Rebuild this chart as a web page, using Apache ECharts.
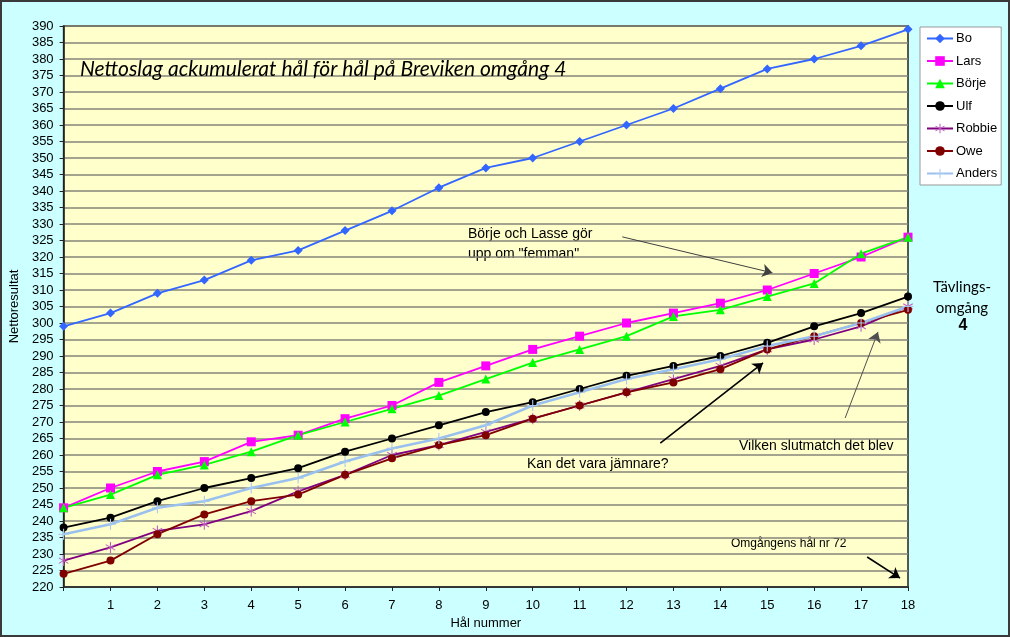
<!DOCTYPE html>
<html lang="sv">
<head>
<meta charset="UTF-8">
<title>Nettoslag Breviken omgång 4</title>
<style>
    * { padding: 0; margin: 0; box-sizing: border-box; }
    html, body { width: 100%; height: 100%; overflow: hidden; }
    #box { width: 1010px; height: 637px; }
</style>
</head>
<body>
<div id="box"></div>
<script src="https://cdn.jsdelivr.net/npm/echarts@6/dist/echarts.min.js"></script>
<script>
    // hål 0..18
    var holes = [0, 1, 2, 3, 4, 5, 6, 7, 8, 9, 10, 11, 12, 13, 14, 15, 16, 17, 18];
    var bo     = [299, 303, 309, 313, 319, 322, 328, 334, 341, 347, 350, 355, 360, 365, 371, 377, 380, 384, 389];
    var lars   = [244, 250, 255, 258, 264, 266, 271, 275, 282, 287, 292, 296, 300, 303, 306, 310, 315, 320, 326];
    var borje  = [244, 248, 254, 257, 261, 266, 270, 274, 278, 283, 288, 292, 296, 302, 304, 308, 312, 321, 326];
    var ulf    = [238, 241, 246, 250, 253, 256, 261, 265, 269, 273, 276, 280, 284, 287, 290, 294, 299, 303, 308];
    var robbie = [228, 232, 237, 239, 243, 249, 254, 260, 263, 267, 271, 275, 279, 283, 287, 292, 295, 299, 305];
    var owe    = [224, 228, 236, 242, 246, 248, 254, 259, 263, 266, 271, 275, 279, 282, 286, 292, 296, 300, 304];
    var anders = [236, 239, 244, 246, 250, 253, 258, 262, 265, 269, 275, 279, 283, 286, 289, 293, 296, 300, 305];

    // pilar i diagrammet (data-koordinater: hål, resultat)
    var arrows = [
        { from: [11.91, 326.1], to: [15.11, 315.2], color: '#404040', width: 1 },
        { from: [12.72, 263.6], to: [14.91, 287.9], color: '#000', width: 1.6 },
        { from: [16.66, 271.2], to: [17.36, 297.3], color: '#505050', width: 1 },
        { from: [17.13, 229.1], to: [17.83, 222.7], color: '#000', width: 1.6 }
    ];

    var font = "'Liberation Sans', Arial, sans-serif";
    var asterisk = 'path://M-0.5,-5L0.5,-5L0.5,5L-0.5,5Z M4.08,2.93L4.58,2.07L-4.08,-2.93L-4.58,-2.07Z M4.58,-2.07L4.08,-2.93L-4.58,2.07L-4.08,2.93Z';
    var plus = 'path://M-0.5,-5L0.5,-5L0.5,5L-0.5,5Z M-5,-0.5L5,-0.5L5,0.5L-5,0.5Z';

    var pairs = function (vals) {
        var res = [];
        for (var i = 0; i < holes.length; i++) {
            res.push([holes[i], vals[i]]);
        }
        return res;
    };

    var mkSeries = function (name, vals, color, symbol, size, markColor, width) {
        return {
            name: name,
            type: 'line',
            data: pairs(vals),
            symbol: symbol,
            symbolSize: size,
            symbolKeepAspect: true,
            lineStyle: { color: color, width: width || 1.8 },
            itemStyle: { color: markColor || color },
            emphasis: { disabled: true }
        };
    };

    var series = [
        mkSeries('Bo', bo, '#3366FF', 'diamond', 9),
        mkSeries('Lars', lars, '#FF00FF', 'rect', 9),
        mkSeries('Börje', borje, '#00FF00', 'triangle', 9),
        mkSeries('Ulf', ulf, '#000000', 'circle', 8),
        mkSeries('Robbie', robbie, '#800080', asterisk, 11, '#C060C0'),
        mkSeries('Owe', owe, '#800000', 'circle', 8),
        mkSeries('Anders', anders, '#99C0EE', plus, 11, '#A8C8F0', 2.6)
    ];

    var arrowLines = [];
    for (var i = 0; i < arrows.length; i++) {
        arrowLines.push([
            { coord: arrows[i].from, lineStyle: { color: arrows[i].color, width: arrows[i].width, type: 'solid' } },
            { coord: arrows[i].to }
        ]);
    }
    series.push({
        name: 'pilar',
        type: 'line',
        data: [],
        silent: true,
        markLine: {
            silent: true,
            symbol: ['none', 'arrow'],
            symbolSize: 10,
            label: { show: false },
            emphasis: { disabled: true },
            data: arrowLines
        }
    });

    var box = echarts.init(document.getElementById('box'));
    var option = {
        animation: false,
        backgroundColor: '#CCFFFF',
        textStyle: { fontFamily: font },
        title: {
            text: 'Nettoslag ackumulerat hål för hål på Breviken omgång 4',
            left: 75,
            top: 54,
            textStyle: { fontFamily: 'Lato, sans-serif', fontStyle: 'italic', fontWeight: 'normal', fontSize: 21, color: '#000' }
        },
        legend: {
            orient: 'vertical',
            left: 920,
            top: 27,
            width: 81,
            padding: [5, 4, 5, 6],
            itemWidth: 26,
            itemHeight: 12,
            itemGap: 9.5,
            backgroundColor: '#fff',
            borderColor: '#999',
            borderWidth: 1,
            data: ['Bo', 'Lars', 'Börje', 'Ulf', 'Robbie', 'Owe', 'Anders'],
            textStyle: { fontFamily: font, fontSize: 13, color: '#000', padding: [0, 0, 0, -2] }
        },
        grid: {
            left: 62, right: 102, top: 26, bottom: 50,
            show: true,
            backgroundColor: '#FFFFCC',
            borderColor: '#222',
            borderWidth: 1.5
        },
        xAxis: {
            type: 'value',
            min: 0, max: 18, interval: 1,
            name: 'Hål nummer',
            nameLocation: 'middle',
            nameGap: 30,
            nameTextStyle: { fontFamily: font, fontSize: 13, color: '#000' },
            axisLine: { lineStyle: { color: '#222', width: 1.5 } },
            axisTick: { show: true, length: 4, lineStyle: { color: '#222' } },
            axisLabel: {
                fontFamily: font, fontSize: 13, color: '#000', margin: 12,
                formatter: function (v) { return v === 0 ? '' : v; }
            },
            splitLine: { show: false }
        },
        yAxis: {
            type: 'value',
            min: 220, max: 390, interval: 5,
            name: 'Nettoresultat',
            nameLocation: 'middle',
            nameGap: 40,
            nameRotate: 90,
            nameTextStyle: { fontFamily: font, fontSize: 13, color: '#000' },
            axisLine: { show: true, lineStyle: { color: '#222', width: 1.5 } },
            axisTick: { show: true, length: 4, lineStyle: { color: '#222' } },
            axisLabel: { fontFamily: font, fontSize: 13, color: '#000', margin: 10 },
            splitLine: { show: true, lineStyle: { color: '#85857a', width: 1.6 } }
        },
        graphic: [
            { type: 'rect', silent: true, z: 100, shape: { x: 1, y: 1, width: 1008, height: 635 },
              style: { fill: 'none', stroke: '#3a3a3a', lineWidth: 2 } },
            { type: 'text', silent: true, left: 468, top: 224,
              style: { text: 'Börje och Lasse gör\nupp om "femman"', font: '14px ' + font, fill: '#000', lineHeight: 20 } },
            { type: 'text', silent: true, left: 527, top: 457,
              style: { text: 'Kan det vara jämnare?', font: '14px ' + font, fill: '#000' } },
            { type: 'text', silent: true, left: 739, top: 439,
              style: { text: 'Vilken slutmatch det blev', font: '14px ' + font, fill: '#000' } },
            { type: 'text', silent: true, left: 731, top: 538,
              style: { text: 'Omgångens hål nr 72', font: '12px ' + font, fill: '#000' } },
            { type: 'text', silent: true,
              style: { x: 962, y: 287, text: 'Tävlings-', font: '15px Lato, sans-serif', fill: '#000', align: 'center', verticalAlign: 'middle' } },
            { type: 'text', silent: true,
              style: { x: 962, y: 308, text: 'omgång', font: '15px Lato, sans-serif', fill: '#000', align: 'center', verticalAlign: 'middle' } },
            { type: 'text', silent: true,
              style: { x: 963, y: 326, text: '4', font: 'bold 16px ' + font, fill: '#000', align: 'center', verticalAlign: 'middle' } }
        ],
        series: series
    };
    box.setOption(option);
</script>
</body>
</html>
